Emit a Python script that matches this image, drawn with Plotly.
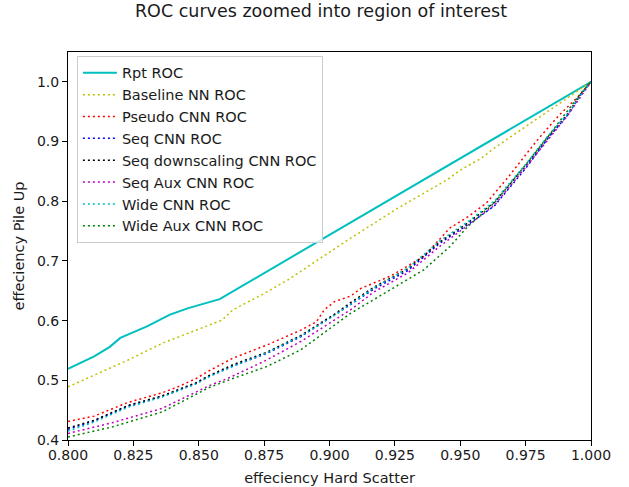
import plotly.graph_objects as go

# ---- data ----
rpt_x = [0.800, 0.810, 0.816, 0.820, 0.830, 0.839, 0.846, 0.856, 0.858, 1.000]
rpt_y = [0.519, 0.540, 0.556, 0.571, 0.590, 0.610, 0.621, 0.634, 0.636, 1.000]

base_x = [0.800, 0.810, 0.823, 0.836, 0.849, 0.859, 0.863, 0.874, 0.884, 0.907,
          0.926, 0.945, 0.950, 0.958, 0.963, 0.975, 0.988, 0.996, 1.000]
base_y = [0.489, 0.509, 0.534, 0.562, 0.584, 0.601, 0.618, 0.643, 0.668, 0.735,
          0.788, 0.836, 0.852, 0.872, 0.889, 0.925, 0.964, 0.987, 1.000]

pseudo_x = [0.800, 0.810, 0.823, 0.836, 0.842, 0.849, 0.854, 0.863, 0.876, 0.889,
            0.895, 0.898, 0.902, 0.908, 0.912, 0.923, 0.936, 0.946, 0.953, 0.960,
            0.969, 0.979, 0.988, 0.995, 1.000]
pseudo_y = [0.431, 0.440, 0.463, 0.479, 0.489, 0.503, 0.516, 0.537, 0.559, 0.584,
            0.598, 0.618, 0.632, 0.641, 0.654, 0.674, 0.707, 0.755, 0.774, 0.797,
            0.844, 0.900, 0.945, 0.975, 1.000]

grp_x = [0.800, 0.810, 0.823, 0.836, 0.849, 0.854, 0.863, 0.876, 0.889, 0.902,
         0.908, 0.917, 0.930, 0.942, 0.953, 0.963, 0.975, 0.984, 0.991, 0.996, 1.000]
seq_y = [0.418, 0.432, 0.457, 0.473, 0.495, 0.507, 0.524, 0.545, 0.573, 0.609,
         0.627, 0.653, 0.684, 0.729, 0.761, 0.792, 0.855, 0.908, 0.944, 0.978, 1.000]
down_y = [0.420, 0.433, 0.458, 0.474, 0.496, 0.508, 0.526, 0.547, 0.575, 0.611,
          0.630, 0.656, 0.687, 0.731, 0.764, 0.798, 0.860, 0.910, 0.946, 0.979, 1.000]
wide_y = [0.415, 0.430, 0.455, 0.472, 0.494, 0.506, 0.523, 0.546, 0.574, 0.609,
          0.627, 0.655, 0.688, 0.733, 0.766, 0.800, 0.862, 0.912, 0.946, 0.978, 1.000]

seqaux_x = [0.800, 0.817, 0.836, 0.854, 0.861, 0.876, 0.889, 0.902, 0.908, 0.917,
            0.930, 0.942, 0.953, 0.963, 0.975, 0.991, 1.000]
seqaux_y = [0.411, 0.429, 0.453, 0.491, 0.503, 0.534, 0.565, 0.601, 0.618, 0.648,
            0.680, 0.724, 0.760, 0.793, 0.857, 0.943, 1.000]

wideaux_x = [0.800, 0.817, 0.836, 0.854, 0.863, 0.876, 0.889, 0.902, 0.908, 0.923,
             0.936, 0.946, 0.953, 0.963, 0.975, 0.984, 0.996, 1.000]
wideaux_y = [0.405, 0.422, 0.447, 0.488, 0.503, 0.523, 0.551, 0.593, 0.612, 0.651,
             0.685, 0.724, 0.758, 0.797, 0.861, 0.911, 0.980, 1.000]

x_ticks = [0.800, 0.825, 0.850, 0.875, 0.900, 0.925, 0.950, 0.975, 1.000]
y_ticks = [0.4, 0.5, 0.6, 0.7, 0.8, 0.9, 1.0]

series = [
    ("Rpt ROC", rpt_x, rpt_y, "#00bfbf", "solid"),
    ("Baseline NN ROC", base_x, base_y, "#bfbf00", "dot"),
    ("Pseudo CNN ROC", pseudo_x, pseudo_y, "#ff0000", "dot"),
    ("Seq CNN ROC", grp_x, seq_y, "#0000ff", "dot"),
    ("Seq downscaling CNN ROC", grp_x, down_y, "#000000", "dot"),
    ("Seq Aux CNN ROC", seqaux_x, seqaux_y, "#bf00bf", "dot"),
    ("Wide CNN ROC", grp_x, wide_y, "#00bfbf", "dot"),
    ("Wide Aux CNN ROC", wideaux_x, wideaux_y, "#008000", "dot"),
]

FONT = "DejaVu Sans"
TXT = "#1a1a1a"
W, H = 629, 487
L, T = 68, 52
PW, PH = 523, 388

fig = go.Figure()
for name, xs, ys, col, dash in series:
    fig.add_trace(go.Scatter(
        x=xs, y=ys, mode="lines", name=name,
        line=dict(color=col, width=1.5 if dash == "dot" else 2,
                  dash="2px,3px" if dash == "dot" else "solid"),
    ))

axis_common = dict(
    showgrid=False, zeroline=False, showline=True, linecolor="black",
    linewidth=1, mirror=True, ticks="outside", ticklen=5, tickcolor="black",
    tickwidth=1, tickfont=dict(family=FONT, size=14, color=TXT),
)
fig.update_xaxes(range=[0.8, 1.0], tickvals=x_ticks, tickformat=".3f",
                 ticklabelstandoff=-3,
                 title=dict(text="effeciency Hard Scatter", standoff=11,
                            font=dict(family=FONT, size=14.5, color=TXT)),
                 **axis_common)
fig.update_yaxes(range=[0.4, 1.05], tickvals=y_ticks, tickformat=".1f",
                 title=dict(text="effeciency Pile Up", standoff=8,
                            font=dict(family=FONT, size=14.5, color=TXT)),
                 **axis_common)

fig.update_layout(
    width=W, height=H,
    margin=dict(l=L, r=W - L - PW, t=T, b=H - T - PH, autoexpand=False),
    plot_bgcolor="white", paper_bgcolor="white",
    font=dict(family=FONT, size=14, color=TXT),
    title=dict(text="ROC curves zoomed into region of interest",
               x=321 / W, xanchor="center",
               y=1 - 11 / H, yanchor="middle",
               font=dict(family=FONT, size=17.5, color=TXT)),
    legend=dict(x=0.017, y=0.99, xanchor="left", yanchor="top",
                itemwidth=34,
                bgcolor="rgba(255,255,255,0.8)", bordercolor="#cccccc",
                borderwidth=1, font=dict(family=FONT, size=14.5, color=TXT)),
    showlegend=True,
)

fig.write_html("out.html", config={"displayModeBar": False},
               post_script="document.body.style.margin='0px';")
